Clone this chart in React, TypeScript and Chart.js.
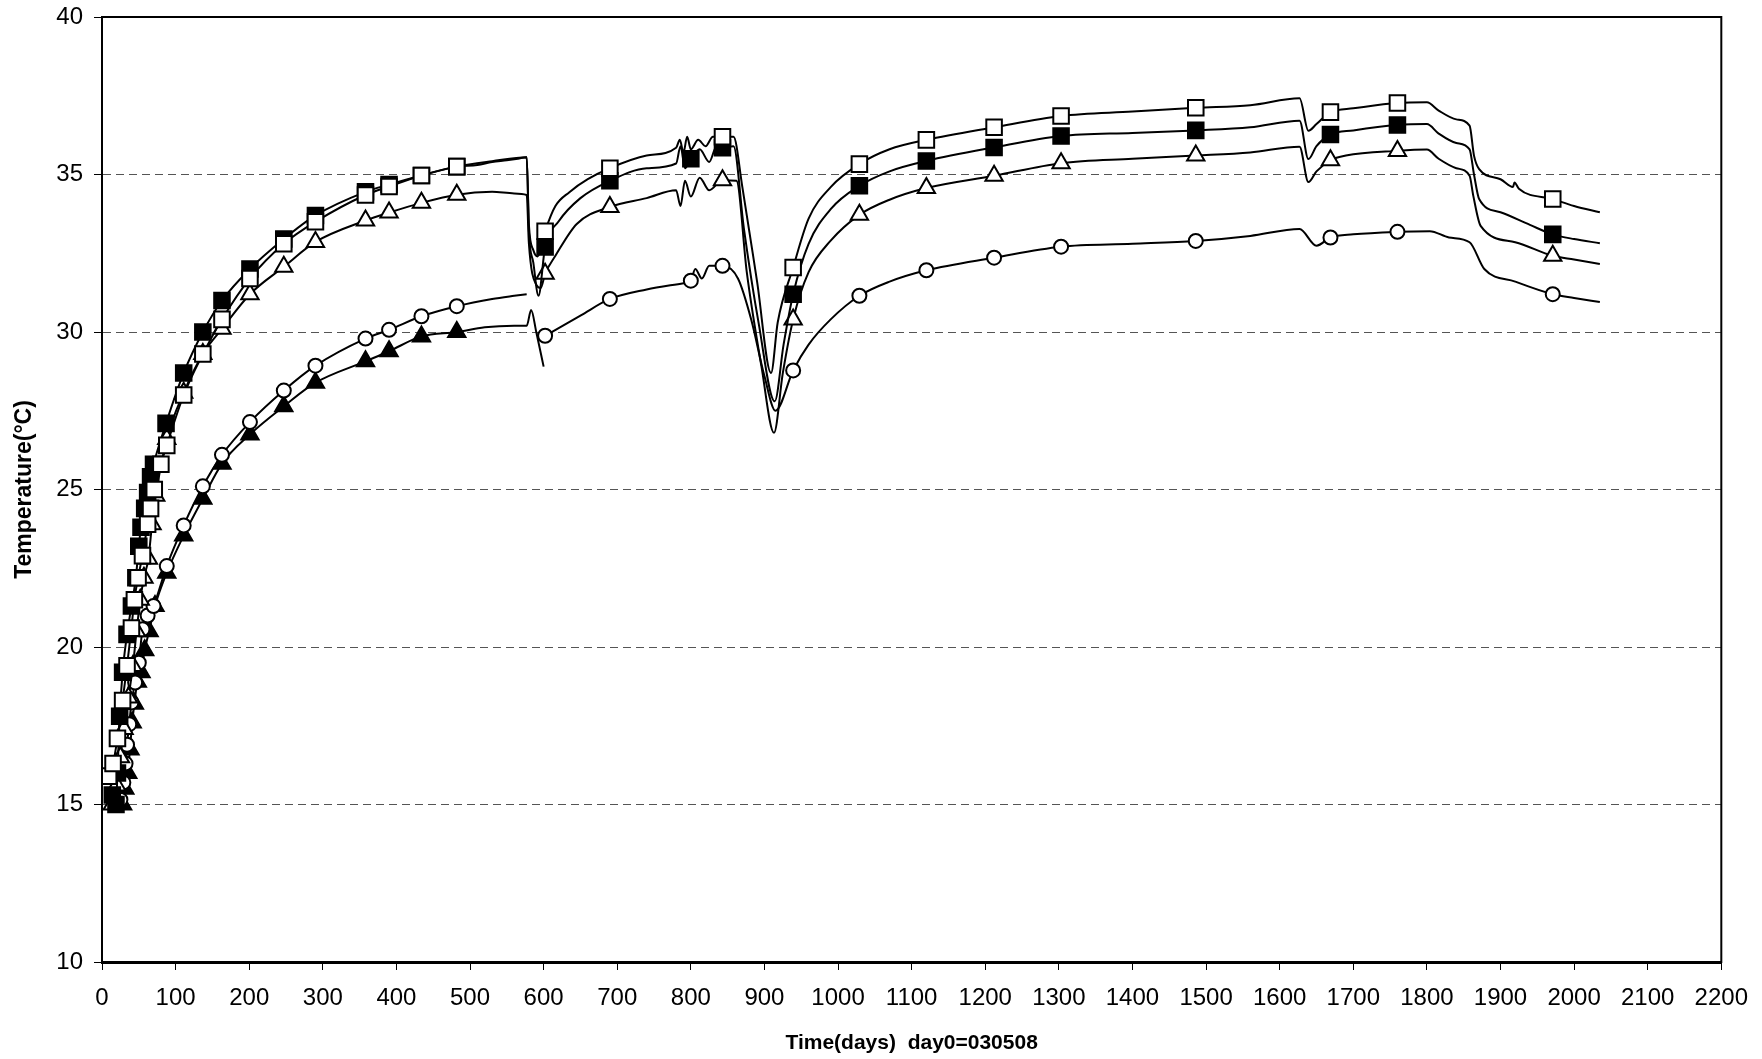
import React, { useEffect, useRef } from "react";
import { Chart, registerables } from "chart.js";

Chart.register(...registerables);

// ---- Data (day, temperature °C) ----
const openSquareLine: [number, number | null][] = [
  [9, 15.9], [15, 16.3], [21, 17.1], [28, 18.3], [34, 19.4], [40, 20.6], [44, 21.5], [49, 22.2], [55, 22.9], [62, 23.9],
  [66, 24.4], [71, 25.0], [80, 25.8], [88, 26.4], [111, 28.0], [137, 29.3], [163, 30.4], [201, 31.7], [247, 32.8], [290, 33.5],
  [358, 34.35], [390, 34.62], [434, 34.97], [482, 35.25], [510, 35.3], [530, 35.4], [550, 35.45], [565, 35.5], [577, 35.55],
  [580, 33.4], [586, 32.6], [592, 32.4], [602, 33.2], [616, 34.0], [635, 34.44], [660, 34.85], [690, 35.2], [740, 35.6],
  [780, 35.85], [785, 36.1], [790, 35.7], [795, 36.2], [800, 35.8], [810, 36.1], [820, 35.9], [830, 36.2], [843, 36.2],
  [858, 36.2], [870, 34.6], [890, 31.6], [909, 28.7], [918, 30.3], [939, 32.05], [960, 33.6], [990, 34.6], [1029, 35.33],
  [1070, 35.8], [1120, 36.1], [1212, 36.5], [1303, 36.86], [1400, 37.0], [1486, 37.12], [1560, 37.2], [1627, 37.42],
  [1639, 36.39], [1650, 36.6], [1669, 36.98], [1700, 37.1], [1760, 37.27], [1800, 37.29], [1816, 37.03], [1840, 36.75],
  [1858, 36.55], [1864, 35.6], [1871, 35.17], [1900, 34.85], [1917, 34.6], [1919, 34.75], [1925, 34.55], [1971, 34.22],
  [2000, 34.0], [2035, 33.8],
];
const openSquareMarkers = [9, 15, 21, 28, 34, 40, 44, 49, 55, 62, 66, 71, 80, 88, 111, 137, 163, 201, 247, 290, 358, 390, 434, 482,
  602, 690, 843, 939, 1029, 1120, 1212, 1303, 1486, 1669, 1760, 1971];

const filledSquareLine: [number, number | null][] = [
  [14, 15.3], [19, 15.0], [21, 16.0], [24, 17.8], [28, 19.2], [34, 20.4], [40, 21.3], [46, 22.2], [50, 23.2], [53, 23.8],
  [58, 24.4], [62, 24.9], [66, 25.4], [70, 25.8], [87, 27.1], [111, 28.7], [137, 30.0], [163, 31.0], [201, 32.0], [247, 32.95],
  [290, 33.7], [358, 34.45], [390, 34.68], [434, 34.97], [482, 35.25], [530, 35.42], [577, 35.55], [580, 33.2], [586, 32.2],
  [593, 31.15], [602, 32.7], [620, 33.5], [650, 34.25], [690, 34.8], [740, 35.2], [780, 35.35], [786, 35.9], [792, 35.2],
  [800, 35.5], [812, 35.8], [825, 35.4], [835, 35.9], [843, 35.85], [858, 35.9], [872, 33.3], [892, 30.3], [914, 27.8],
  [926, 29.6], [939, 31.2], [960, 32.8], [990, 33.9], [1029, 34.64], [1070, 35.1], [1120, 35.43], [1212, 35.86], [1303, 36.22],
  [1400, 36.32], [1486, 36.4], [1560, 36.5], [1627, 36.71], [1639, 35.49], [1650, 35.9], [1669, 36.27], [1700, 36.4],
  [1760, 36.57], [1800, 36.6], [1816, 36.3], [1840, 36.0], [1858, 35.8], [1864, 35.0], [1871, 34.22], [1900, 33.8],
  [1940, 33.4], [1971, 33.1], [2000, 32.95], [2035, 32.82],
];
const filledSquareMarkers = [14, 19, 21, 24, 28, 34, 40, 46, 50, 53, 58, 62, 66, 70, 87, 111, 137, 163, 201, 247, 290, 358, 390, 434,
  482, 602, 690, 800, 843, 939, 1029, 1120, 1212, 1303, 1486, 1669, 1760, 1971];

const openTriangleLine: [number, number | null][] = [
  [14, 15.0], [20, 15.6], [25, 16.5], [30, 17.4], [36, 18.4], [42, 19.4], [47, 20.5], [52, 21.5], [57, 22.2], [63, 22.8],
  [68, 23.9], [73, 24.8], [88, 26.6], [111, 28.07], [137, 29.3], [163, 30.1], [201, 31.2], [247, 32.07], [290, 32.86],
  [358, 33.54], [390, 33.79], [434, 34.1], [482, 34.36], [530, 34.45], [560, 34.4], [577, 34.35], [580, 32.8], [590, 31.5],
  [596, 31.4], [602, 31.85], [616, 32.42], [645, 33.43], [690, 33.97], [740, 34.25], [780, 34.5], [786, 34.0], [792, 34.8],
  [800, 34.3], [812, 34.9], [825, 34.5], [843, 34.82], [862, 34.8], [876, 31.9], [896, 28.9], [913, 26.8], [925, 28.7],
  [939, 30.4], [960, 31.9], [990, 32.9], [1029, 33.72], [1070, 34.2], [1120, 34.57], [1212, 34.96], [1303, 35.36], [1400, 35.5],
  [1486, 35.6], [1560, 35.7], [1627, 35.88], [1639, 34.76], [1650, 35.1], [1669, 35.45], [1690, 35.6], [1760, 35.75],
  [1800, 35.79], [1816, 35.5], [1840, 35.2], [1858, 34.96], [1863, 34.33], [1873, 33.37], [1920, 32.85], [1971, 32.42],
  [2000, 32.3], [2035, 32.16],
];
const openTriangleMarkers = [14, 20, 25, 30, 36, 42, 47, 52, 57, 63, 68, 73, 88, 111, 137, 163, 201, 247, 290, 358, 390, 434, 482,
  602, 690, 843, 939, 1029, 1120, 1212, 1303, 1486, 1669, 1760, 1971];

const openCircleLine: [number, number | null][] = [
  [25, 15.15], [29, 15.7], [32, 16.3], [34, 16.9], [37, 17.55], [40, 18.24], [45, 18.87], [50, 19.5], [55, 20.56], [62, 21.0],
  [70, 21.3], [88, 22.57], [111, 23.86], [137, 25.1], [163, 26.1], [201, 27.14], [247, 28.14], [290, 28.93], [358, 29.79],
  [390, 30.07], [434, 30.5], [482, 30.82], [530, 31.05], [560, 31.15], [577, 31.2], [589, null], [602, 29.88], [650, 30.52],
  [690, 31.05], [740, 31.35], [790, 31.55], [800, 31.63], [806, 32.0], [815, 31.7], [825, 32.1], [843, 32.1], [864, 31.7],
  [882, 30.4], [900, 28.6], [915, 27.5], [939, 28.78], [960, 29.6], [990, 30.4], [1029, 31.15], [1070, 31.6], [1120, 31.96],
  [1212, 32.36], [1303, 32.71], [1400, 32.8], [1486, 32.89], [1560, 33.05], [1627, 33.27], [1650, 32.74], [1669, 33.0],
  [1700, 33.1], [1760, 33.18], [1804, 33.2], [1830, 33.0], [1858, 32.85], [1878, 32.0], [1920, 31.6], [1971, 31.2],
  [2000, 31.08], [2035, 30.95],
];
const openCircleMarkers = [25, 29, 32, 34, 37, 40, 45, 50, 55, 62, 70, 88, 111, 137, 163, 201, 247, 290, 358, 390, 434, 482,
  602, 690, 800, 843, 939, 1029, 1120, 1212, 1303, 1486, 1669, 1760, 1971];

const filledTriangleLine: [number, number | null][] = [
  [28, 15.0], [31, 15.5], [35, 16.0], [38, 16.75], [41, 17.6], [44, 18.2], [48, 18.9], [53, 19.2], [58, 19.9], [64, 20.5],
  [72, 21.3], [88, 22.36], [111, 23.54], [137, 24.71], [163, 25.82], [201, 26.75], [247, 27.64], [290, 28.39], [358, 29.07],
  [390, 29.39], [434, 29.86], [482, 30.0], [520, 30.15], [560, 30.2], [577, 30.2], [583, 30.7], [590, 30.0], [600, 28.9],
];
const filledTriangleMarkers = [28, 31, 35, 38, 41, 44, 48, 53, 58, 64, 72, 88, 111, 137, 163, 201, 247, 290, 358, 390, 434, 482];

const xTicks = { min: 0, max: 2200, step: 100 };
const yTicks = { min: 10, max: 40, step: 5 };
const xTitle = "Time(days)  day0=030508";
const yTitle = "Temperature(°C)";

const FONT = "'Liberation Sans', Arial, sans-serif";

function makeDataset(
  line: [number, number | null][],
  markers: number[],
  style: string,
  filled: boolean,
  radius: number
) {
  return {
    data: line.map(([x, y]) => ({ x, y })),
    borderColor: "#000",
    borderWidth: 2,
    cubicInterpolationMode: "monotone" as const,
    spanGaps: false,
    pointStyle: style,
    pointRadius: (ctx: any) => (ctx.raw && markers.includes(ctx.raw.x) ? radius : 0),
    pointHoverRadius: 0,
    pointBorderWidth: 2,
    pointBorderColor: "#000",
    pointBackgroundColor: filled ? "#000" : "#fff",
    fill: false,
  };
}

export default function App() {
  const ref = useRef<HTMLCanvasElement | null>(null);

  useEffect(() => {
    document.body.style.margin = "0";
    if (!ref.current) return;
    const framePlugin = {
      id: "frame",
      afterDraw(chart: any) {
        const { ctx, chartArea } = chart;
        ctx.save();
        ctx.strokeStyle = "#000";
        ctx.lineWidth = 2;
        ctx.strokeRect(chartArea.left, chartArea.top, chartArea.right - chartArea.left, chartArea.bottom - chartArea.top);
        ctx.restore();
      },
    };
    const chart = new Chart(ref.current, {
      type: "line",
      data: {
        datasets: [
          makeDataset(openSquareLine, openSquareMarkers, "rect", false, 11),
          makeDataset(filledSquareLine, filledSquareMarkers, "rect", true, 11),
          makeDataset(openTriangleLine, openTriangleMarkers, "triangle", false, 10),
          makeDataset(openCircleLine, openCircleMarkers, "circle", false, 7),
          makeDataset(filledTriangleLine, filledTriangleMarkers, "triangle", true, 10),
        ] as any,
      },
      options: {
        animation: false,
        responsive: false,
        devicePixelRatio: 1,
        events: [],
        layout: { autoPadding: false, padding: { top: 17, right: 39, left: 0, bottom: 0 } },
        plugins: { legend: { display: false }, tooltip: { enabled: false } },
        scales: {
          x: {
            type: "linear",
            min: xTicks.min,
            max: xTicks.max,
            afterFit: (s: any) => {
              s.height = 97;
            },
            ticks: {
              stepSize: xTicks.step,
              autoSkip: false,
              maxRotation: 0,
              color: "#000",
              padding: 14,
              font: { family: FONT, size: 24 },
              callback: (v: any) => String(v),
            },
            grid: {
              drawOnChartArea: false,
              drawTicks: true,
              tickLength: 8,
              tickColor: "#000",
              tickWidth: 1,
            },
            border: { display: true, color: "#000", width: 3 },
            title: {
              display: true,
              text: xTitle,
              color: "#000",
              font: { family: FONT, size: 21, weight: "bold" },
              padding: { top: 0, bottom: 3 },
            },
          },
          y: {
            type: "linear",
            min: yTicks.min,
            max: yTicks.max,
            afterFit: (s: any) => {
              s.width = 102;
              s.paddingTop = 0;
              s.paddingBottom = 0;
            },
            ticks: {
              stepSize: yTicks.step,
              color: "#000",
              padding: 11,
              font: { family: FONT, size: 24 },
              callback: (v: any) => String(v),
            },
            grid: {
              drawOnChartArea: true,
              drawTicks: true,
              tickLength: 8,
              tickColor: "#000",
              tickWidth: 1,
              tickBorderDash: [],
              lineWidth: 1,
              color: (ctx: any) =>
                ctx.tick && (ctx.tick.value === yTicks.min || ctx.tick.value === yTicks.max) ? "rgba(0,0,0,0)" : "#555",
            },
            border: { display: true, color: "#000", width: 2, dash: [8, 5] },
            title: {
              display: true,
              text: yTitle,
              color: "#000",
              font: { family: FONT, size: 23, weight: "bold" },
              padding: { top: 11, bottom: 0 },
            },
          },
        },
      },
      plugins: [framePlugin],
    });
    return () => chart.destroy();
  }, []);

  return (
    <div style={{ position: "absolute", left: 0, top: 0, width: 1762, height: 1059, background: "#fff" }}>
      <canvas ref={ref} width={1762} height={1059} style={{ width: 1762, height: 1059, display: "block" }} />
    </div>
  );
}
